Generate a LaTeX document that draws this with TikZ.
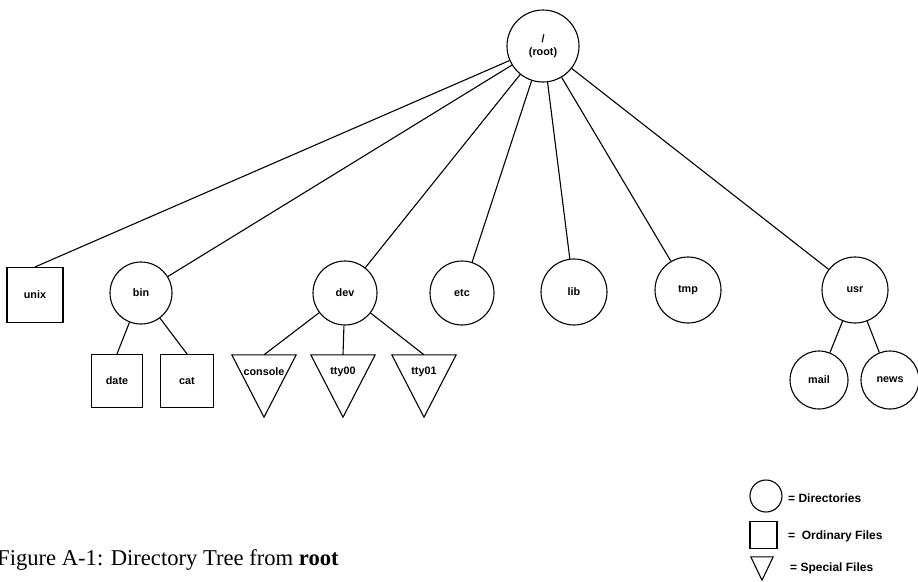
\documentclass[tikz,border=0pt]{standalone}
\usepackage{fontspec}
\setmainfont{Liberation Serif}
\newfontfamily\labfont{Liberation Sans}
\tikzset{
  lbl/.style={font=\labfont\bfseries\fontsize{10.8}{12.5}\selectfont},
  dir/.style={circle, draw, line width=1.1pt, inner sep=0pt, lbl},
  ordfile/.style={rectangle, draw, line width=1.1pt, inner sep=0pt, lbl},
  specfile/.style={rectangle, inner sep=0pt, minimum width=64pt, minimum height=62pt},
  tri/.style={line width=1.1pt, line join=miter},
  conn/.style={line width=1.1pt},
  legtxt/.style={anchor=west, inner sep=0pt, font=\labfont\bfseries\fontsize{12}{14}\selectfont}
}
\begin{document}
\begin{tikzpicture}[x=1pt,y=-1pt]
\useasboundingbox (0,0) rectangle (918,581);
% directories
\node[dir, minimum size=72pt, align=center] (root) at (543,46) {/\\[1pt](root)};
\node[dir, minimum size=62pt] (bin) at (141,293) {bin};
\node[dir, minimum size=64pt] (dev) at (345,293) {dev};
\node[dir, minimum size=64pt] (etc) at (462,293) {etc};
\node[dir, minimum size=66pt] (lib) at (574,292) {lib};
\node[dir, minimum size=66pt] (tmp) at (688,290) {tmp};
\node[dir, minimum size=66pt] (usr) at (855,290) {usr};
\node[dir, minimum size=58pt] (mail) at (819,380) {mail};
\node[dir, minimum size=58pt] (news) at (890,380) {news};
% ordinary files
\node[ordfile, minimum width=56pt, minimum height=55pt] (unix) at (35,295) {unix};
\node[ordfile, minimum width=51pt, minimum height=53pt] (date) at (117,381) {date};
\node[ordfile, minimum width=53pt, minimum height=53pt] (cat) at (187,381) {cat};
% special files
\node[specfile] (console) at (264,386) {};
\node[specfile] (tty00) at (343,386) {};
\node[specfile] (tty01) at (424,386) {};
\foreach \n in {console,tty00,tty01}{
  \draw[tri] (\n.north west) -- (\n.north east) -- (\n.south) -- cycle;
}
\node[lbl] (consoleL) at ([yshift=14pt]console.center) {console};
\node[lbl] (tty00L) at ([yshift=14pt]tty00.center) {tty00};
\node[lbl] (tty01L) at ([yshift=14pt]tty01.center) {tty01};
% connectors
\draw[conn] (root) -- (unix.north);
\foreach \c in {bin,dev,etc,lib,tmp,usr}{
  \draw[conn] (root) -- (\c);
}
\draw[conn] (bin) -- (date.north);
\draw[conn] (bin) -- (cat.north);
\draw[conn] (dev) -- (console.north);
\draw[conn] (dev) -- (tty00.north);
\draw[conn] (dev) -- (tty01.north);
\draw[conn] (usr) -- (mail);
\draw[conn] (usr) -- (news);
% legend
\node[circle, draw, line width=1.1pt, minimum size=32pt, inner sep=0pt] (legdir) at (766,496) {};
\node[rectangle, draw, line width=1.1pt, minimum size=27pt, inner sep=0pt] (legord) at (763.5,535) {};
\node[specfile, minimum width=22pt, minimum height=23pt] (legspec) at (762,568.5) {};
\draw[tri] (legspec.north west) -- (legspec.north east) -- (legspec.south) -- cycle;
\node[legtxt] (legdirT) at (788,498) {= Directories};
\node[legtxt] (legordT) at (788,536) {=\ \ Ordinary Files};
\node[legtxt] (legspecT) at (790,568) {= Special Files};
% caption
\node[anchor=base west, inner sep=0pt, font=\fontsize{22.6}{27}\selectfont] (caption) at (-3,565) {Figure A-1: Directory Tree from \textbf{root}};
\end{tikzpicture}
\end{document}
